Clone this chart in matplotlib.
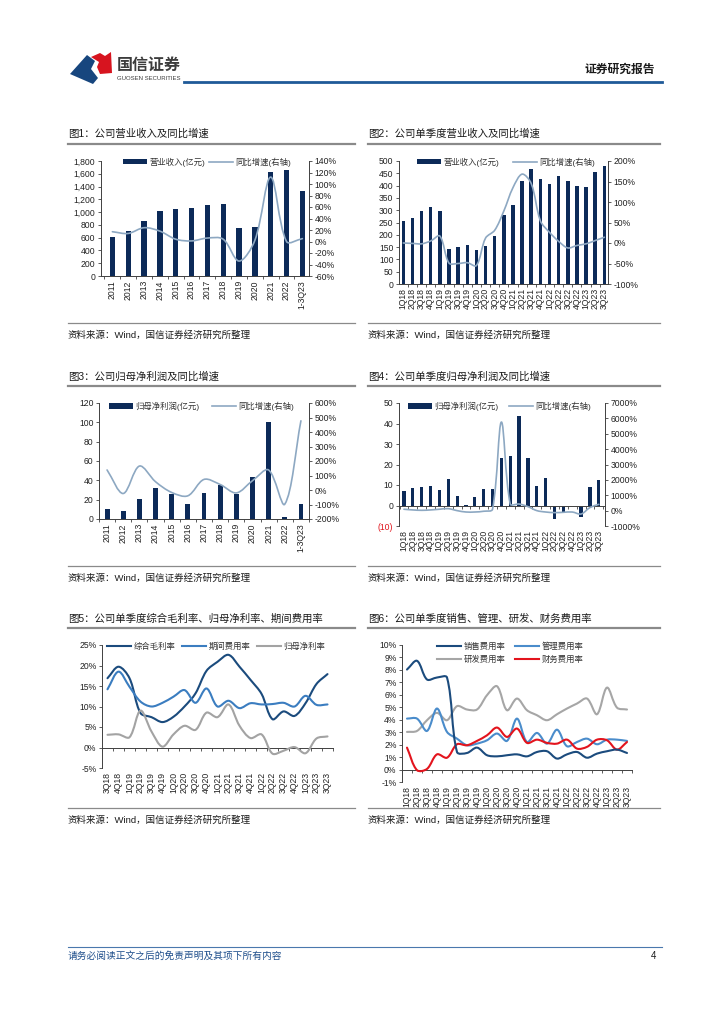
import numpy as np
import matplotlib
matplotlib.use('Agg')
import matplotlib.pyplot as plt
from matplotlib.path import Path
from matplotlib.patches import PathPatch, Polygon, Rectangle
from matplotlib.lines import Line2D
from matplotlib.legend import Legend

plt.rcParams['font.family'] = ['Liberation Sans', 'Noto Sans CJK SC', 'DejaVu Sans']
plt.rcParams['axes.unicode_minus'] = False

# ---------------- data ----------------
years = ['2011', '2012', '2013', '2014', '2015', '2016', '2017', '2018', '2019',
         '2020', '2021', '2022', '1-3Q23']
quarters = ['1Q18', '2Q18', '3Q18', '4Q18', '1Q19', '2Q19', '3Q19', '4Q19',
            '1Q20', '2Q20', '3Q20', '4Q20', '1Q21', '2Q21', '3Q21', '4Q21',
            '1Q22', '2Q22', '3Q22', '4Q22', '1Q23', '2Q23', '3Q23']
quarters5 = ['3Q18', '4Q18', '1Q19', '2Q19', '3Q19', '4Q19', '1Q20', '2Q20',
             '3Q20', '4Q20', '1Q21', '2Q21', '3Q21', '4Q21', '1Q22', '2Q22',
             '3Q22', '4Q22', '1Q23', '2Q23', '3Q23']

# Fig1: annual revenue (亿元) and YoY (%)
rev_annual = [615, 700, 860, 1010, 1045, 1065, 1110, 1130, 755, 770, 1630, 1665, 1330]
rev_annual_yoy = [17, 14, 24, 18, 4, 1, 6, 4, -34, 2, 112, 0, 5]
# Fig2: quarterly revenue and YoY
rev_q = [255, 268, 297, 312, 297, 142, 150, 160, 137, 155, 195, 280, 320, 420,
         467, 425, 405, 440, 420, 400, 395, 455, 480]
rev_q_yoy = [0, -1, -2, 5, 17, -49, -50, -48, -55, 12, 31, 78, 135, 168, 145,
             54, 26, 4, -12, -6, -2, 6, 14]
# Fig3: annual net profit attributable and YoY
np_annual = [10, 8, 21, 32, 26, 16, 27, 35, 26, 43, 100, 2.5, 16]
np_annual_yoy = [138, -24, 165, 57, -17, -40, 73, 38, -20, 64, 138, -98, 477]
# Fig4: quarterly net profit and YoY
np_q = [7.2, 8.6, 8.8, 9.6, 7.8, 13.0, 4.7, 0.2, 4.1, 8.0, 8.0, 23.3, 24.0, 43.9,
        23.2, 9.3, 13.5, -6.7, -3.8, -0.3, -5.4, 8.8, 12.6]
np_q_yoy = [90, 45, 20, 45, 90, 130, 0, -90, -90, -40, 90, 5760, 430, 430, 260,
            0, -90, -130, -110, -90, -220, 200, 410]
# Fig5: quarterly margins (%), 3Q18-3Q23
gross_margin = [16.9, 19.7, 16.9, 8.4, 7.4, 6.2, 7.5, 10.0, 13.2, 18.7, 20.9,
                22.6, 19.7, 16.5, 13.1, 6.9, 8.8, 7.7, 10.8, 15.5, 17.9]
expense_ratio = [14.2, 18.5, 14.8, 11.2, 10.0, 10.9, 12.4, 14.0, 10.9, 14.4, 10.0,
                 11.4, 9.6, 10.8, 10.5, 10.6, 10.9, 10.0, 12.6, 10.4, 10.5]
net_margin = [3.1, 3.2, 2.5, 9.0, 3.9, 0.2, 3.2, 5.3, 4.3, 8.5, 7.4, 10.5, 5.3,
              2.3, 3.2, -1.5, -0.8, 0.1, -1.4, 2.2, 2.7]
# Fig6: quarterly expense ratios (%), 1Q18-3Q23
selling_ratio = [8.03, 8.73, 7.23, 7.39, 7.39, 1.41, 1.33, 1.76, 1.15, 1.06, 1.15,
                 1.22, 1.06, 1.41, 1.47, 0.88, 1.22, 1.41, 0.95, 1.28, 1.47, 1.6, 1.33]
admin_ratio = [4.09, 4.09, 3.1, 4.9, 3.02, 2.48, 1.95, 2.08, 2.35, 2.89, 2.3, 4.09,
               2.21, 2.94, 2.08, 3.2, 1.87, 2.21, 2.48, 2.03, 2.4, 2.4, 2.3]
rd_ratio = [3.02, 3.1, 3.96, 4.55, 3.96, 5.09, 4.82, 4.82, 5.97, 6.69, 4.76, 5.7,
            4.76, 4.36, 3.96, 4.44, 4.9, 5.3, 5.7, 4.44, 6.58, 4.97, 4.82]
fin_ratio = [1.76, -0.05, 0.05, 1.22, 0.95, 2.03, 1.95, 2.3, 2.75, 3.37, 2.62, 3.29,
             2.14, 2.4, 2.14, 2.08, 2.4, 1.68, 1.82, 2.4, 2.35, 1.6, 2.21]

titles = ['图1：公司营业收入及同比增速', '图2：公司单季度营业收入及同比增速',
          '图3：公司归母净利润及同比增速', '图4：公司单季度归母净利润及同比增速',
          '图5：公司单季度综合毛利率、归母净利率、期间费用率',
          '图6：公司单季度销售、管理、研发、财务费用率']
source_text = '资料来源：Wind，国信证券经济研究所整理'

# ---------------- styling ----------------
W, H = 724, 1024
BAR = '#0c2a58'
GLINE = '#8da8c2'
AXC = '#404040'
TXT = '#222222'
TICK_FS = 6.2
LEG_FS = 6.0

fig = plt.figure(figsize=(W / 100, H / 100), dpi=100)


def fx(x):
    return x / W


def fy(y):
    return 1 - y / H


def axbox(x0, y0, x1, y1):
    return [x0 / W, 1 - y1 / H, (x1 - x0) / W, (y1 - y0) / H]


def hline(x0, x1, y, color, lw):
    fig.add_artist(Line2D([fx(x0), fx(x1)], [fy(y), fy(y)], color=color, lw=lw,
                          transform=fig.transFigure))


def smooth_line(ax, ys, color, lw, z=3):
    """Excel-like smoothed line: cubic Bezier through the data points, control
    points scaled by neighbouring segment lengths in screen space."""
    xs = np.arange(len(ys), dtype=float)
    pts = ax.transData.transform(np.column_stack([xs, np.asarray(ys, float)]))
    n = len(pts)
    verts = [pts[0]]
    codes = [Path.MOVETO]
    for i in range(n - 1):
        p0 = pts[max(i - 1, 0)]
        p1 = pts[i]
        p2 = pts[i + 1]
        p3 = pts[min(i + 2, n - 1)]
        d01 = np.hypot(*(p1 - p0))
        d12 = np.hypot(*(p2 - p1))
        d23 = np.hypot(*(p3 - p2))
        f1 = d12 / (d01 + d12) if d01 + d12 > 0 else 0.5
        f2 = d12 / (d12 + d23) if d12 + d23 > 0 else 0.5
        c1 = p1 + (p2 - p0) / 3.0 * f1
        c2 = p2 - (p3 - p1) / 3.0 * f2
        verts += [c1, c2, p2]
        codes += [Path.CURVE4] * 3
    data_verts = ax.transData.inverted().transform(np.array(verts))
    patch = PathPatch(Path(data_verts, codes), facecolor='none', edgecolor=color,
                      lw=lw, capstyle='round', joinstyle='round', zorder=z)
    ax.add_patch(patch)


def legend_entry(ax, handle, label, x_px, y_px):
    leg = Legend(ax, [handle], [label], loc='center left',
                 bbox_to_anchor=(fx(x_px), fy(y_px)), bbox_transform=fig.transFigure,
                 frameon=False, fontsize=LEG_FS, handlelength=2.9, handleheight=0.65,
                 handletextpad=0.3, borderpad=0, borderaxespad=0)
    for t in leg.get_texts():
        t.set_color('#333333')
    leg.set_zorder(10)
    ax.add_artist(leg)


def style_y(ax, side):
    for s in ['top', 'left', 'right', 'bottom']:
        ax.spines[s].set_visible(False)
    ax.spines[side].set_visible(True)
    ax.spines[side].set_color(AXC)
    ax.spines[side].set_linewidth(0.7)
    ax.tick_params(axis='y', direction='out', length=2.5, width=0.6, color=AXC,
                   labelsize=TICK_FS, labelcolor=TXT, pad=1.5)
    ax.patch.set_visible(False)


def setup_x(ax, cats, xlim, zero):
    n = len(cats)
    ax.set_xlim(*xlim)
    ax.spines['bottom'].set_visible(True)
    ax.spines['bottom'].set_color(AXC)
    ax.spines['bottom'].set_linewidth(0.7)
    ax.spines['bottom'].set_position(('data', zero))
    ax.set_xticks([])
    ax.set_xticks(np.arange(-1, n) + 0.5, minor=True)
    ax.tick_params(axis='x', which='minor', direction='out', length=2.5, width=0.6,
                   color=AXC)
    sec = ax.secondary_xaxis(0.0)
    sec.set_xticks(np.arange(n), labels=cats)
    sec.tick_params(axis='x', length=0, labelsize=TICK_FS, labelcolor=TXT,
                    labelrotation=90, pad=3)
    for s in sec.spines.values():
        s.set_visible(False)


def titles_and_source(x0, x1, ty, uy, sy, text):
    fig.text(fx(x0), fy(ty), text, fontsize=7.5, color='#1a1a1a', ha='left',
             va='center')
    hline(x0, x1, uy, '#8a8a8a', 1.6)
    hline(x0, x1, sy - 12, '#8a8a8a', 0.9)
    fig.text(fx(x0), fy(sy), source_text, fontsize=6.8, color='#1a1a1a',
             ha='left', va='center')


def bar_line_chart(box, cats, bars, growth, xlim, barw, ylim, yticks, ylabels,
                   y2lim, y2ticks, labels, leg_x, leg_y, zero=None):
    ax = fig.add_axes(axbox(*box))
    style_y(ax, 'left')
    ax.set_ylim(*ylim)
    ax.set_yticks(yticks, labels=ylabels)
    ax.bar(np.arange(len(cats)), bars, width=barw, color=BAR, zorder=2)
    setup_x(ax, cats, xlim, ylim[0] if zero is None else zero)
    ax2 = ax.twinx()
    style_y(ax2, 'right')
    ax2.set_xlim(*xlim)
    ax2.set_ylim(*y2lim)
    ax2.set_yticks(y2ticks, labels=['{:d}%'.format(v) for v in y2ticks])
    smooth_line(ax2, growth, GLINE, 1.2)
    legend_entry(ax2, Rectangle((0, 0), 1, 1, fc=BAR, ec='none'), labels[0],
                 leg_x[0], leg_y)
    legend_entry(ax2, Line2D([], [], color=GLINE, lw=1.2), labels[1], leg_x[1], leg_y)
    return ax, ax2


# ---------------- header ----------------
fig.add_artist(Polygon([(fx(70), fy(74)), (fx(87), fy(55)), (fx(95), fy(61)),
                        (fx(91), fy(69)), (fx(98), fy(78)), (fx(93), fy(84))],
                       closed=True, fc='#17467e', ec='none', transform=fig.transFigure))
fig.add_artist(Polygon([(fx(91), fy(57)), (fx(100), fy(53)), (fx(105), fy(56)),
                        (fx(111), fy(52)), (fx(112), fy(73)), (fx(100), fy(74)),
                        (fx(97), fy(67)), (fx(99), fy(62))],
                       closed=True, fc='#d7141f', ec='none', transform=fig.transFigure))
fig.text(fx(117), fy(65), '国信证券', fontsize=11.5, fontweight='bold',
         color='#3c3c3c', ha='left', va='center')
fig.text(fx(117), fy(79), 'GUOSEN SECURITIES', fontsize=4.3, color='#3c3c3c',
         ha='left', va='center')
fig.text(fx(655), fy(70), '证券研究报告', fontsize=8.5, fontweight='bold',
         color='#1a1a1a', ha='right', va='center')
hline(184, 662, 82, '#1f5a98', 2.0)

# ---------------- titles / sources ----------------
titles_and_source(68, 355, 134, 143.5, 335, titles[0])
titles_and_source(368, 660, 134, 143.5, 335, titles[1])
titles_and_source(68, 355, 377, 386, 578, titles[2])
titles_and_source(368, 660, 377, 386, 578, titles[3])
titles_and_source(68, 355, 619, 628, 820, titles[4])
titles_and_source(368, 660, 619, 628, 820, titles[5])

# ---------------- Fig 1 ----------------
bar_line_chart((101, 161, 309, 276), years, rev_annual, rev_annual_yoy,
               (-0.72, 12.42), 0.34, (0, 1800), list(range(0, 1801, 200)),
               ['{:,}'.format(v) for v in range(0, 1801, 200)],
               (-60, 140), list(range(-60, 141, 20)),
               ['营业收入(亿元)', '同比增速(右轴)'], (123, 209), 162)

# ---------------- Fig 2 ----------------
bar_line_chart((399, 161, 608, 284), quarters, rev_q, rev_q_yoy,
               (-0.47, 22.4), 0.38, (0, 500), list(range(0, 501, 50)),
               [str(v) for v in range(0, 501, 50)],
               (-100, 200), list(range(-100, 201, 50)),
               ['营业收入(亿元)', '同比增速(右轴)'], (417, 513), 162)

# ---------------- Fig 3 ----------------
bar_line_chart((99, 403, 309, 519), years, np_annual, np_annual_yoy,
               (-0.5, 12.5), 0.3, (0, 120), list(range(0, 121, 20)),
               [str(v) for v in range(0, 121, 20)],
               (-200, 600), list(range(-200, 601, 100)),
               ['归母净利润(亿元)', '同比增速(右轴)'], (109, 212), 406)

# ---------------- Fig 4 ----------------
ax4, ax4b = bar_line_chart((399, 403, 605, 526), quarters, np_q, np_q_yoy,
                           (-0.56, 22.7), 0.36, (-10, 50), list(range(-10, 51, 10)),
                           ['(10)'] + [str(v) for v in range(0, 51, 10)],
                           (-1000, 7000), list(range(-1000, 7001, 1000)),
                           ['归母净利润(亿元)', '同比增速(右轴)'], (408, 509), 406,
                           zero=0)
ax4.get_yticklabels()[0].set_color('#e0141c')

# ---------------- Fig 5 ----------------
ax5 = fig.add_axes(axbox(102, 645, 333, 768))
style_y(ax5, 'left')
ax5.set_ylim(-5, 25)
ax5.set_yticks(list(range(-5, 26, 5)), labels=['{}%'.format(v) for v in range(-5, 26, 5)])
setup_x(ax5, quarters5, (-0.42, 20.42), 0)
C_GM, C_EXP, C_NP = '#1b4b7d', '#3b7dc0', '#a3a3a3'
smooth_line(ax5, gross_margin, C_GM, 1.5)
smooth_line(ax5, expense_ratio, C_EXP, 1.5)
smooth_line(ax5, net_margin, C_NP, 1.5)
legend_entry(ax5, Line2D([], [], color=C_GM, lw=1.5), '综合毛利率', 107, 647)
legend_entry(ax5, Line2D([], [], color=C_EXP, lw=1.5), '期间费用率', 182, 647)
legend_entry(ax5, Line2D([], [], color=C_NP, lw=1.5), '归母净利率', 257, 647)

# ---------------- Fig 6 ----------------
ax6 = fig.add_axes(axbox(402, 645, 632, 782))
style_y(ax6, 'left')
ax6.set_ylim(-1, 10)
ax6.set_yticks(list(range(-1, 11)), labels=['{}%'.format(v) for v in range(-1, 11)])
setup_x(ax6, quarters, (-0.45, 22.45), 0)
C_S, C_A, C_R, C_F = '#1b4b7d', '#4a8ccb', '#a6a6a6', '#e3141d'
smooth_line(ax6, rd_ratio, C_R, 1.5)
smooth_line(ax6, admin_ratio, C_A, 1.5)
smooth_line(ax6, fin_ratio, C_F, 1.5)
smooth_line(ax6, selling_ratio, C_S, 1.5)
legend_entry(ax6, Line2D([], [], color=C_S, lw=1.5), '销售费用率', 437, 647)
legend_entry(ax6, Line2D([], [], color=C_A, lw=1.5), '管理费用率', 515, 647)
legend_entry(ax6, Line2D([], [], color=C_R, lw=1.5), '研发费用率', 437, 660)
legend_entry(ax6, Line2D([], [], color=C_F, lw=1.5), '财务费用率', 515, 660)

# ---------------- footer ----------------
hline(68, 662, 947, '#4a78ad', 0.8)
fig.text(fx(68), fy(956), '请务必阅读正文之后的免责声明及其项下所有内容', fontsize=7.0,
         color='#1f4f8c', ha='left', va='center', style='italic')
fig.text(fx(656), fy(956), '4', fontsize=7, color='#1a1a1a', ha='right', va='center')

fig.savefig('out.png', dpi=100)
